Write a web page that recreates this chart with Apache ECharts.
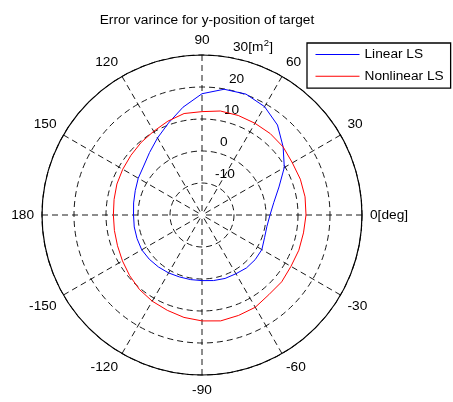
<!DOCTYPE html>
<html><head><meta charset="utf-8">
<script src="https://cdn.jsdelivr.net/npm/echarts@6/dist/echarts.min.js"></script>
<style>html,body{margin:0;padding:0;background:#fff}#c{width:453px;height:402px}</style>
</head><body><div id="c"></div>
<script>
const titleText = 'Error varince for y-position of target';
const seriesNames = ['Linear LS', 'Nonlinear LS'];
const angles = [0,10,20,30,40,50,60,70,80,90,100,110,120,130,140,150,160,170,180,190,200,210,220,230,240,250,260,270,280,290,300,310,320,330,340,350,360];
const linearLS = [1.25,2.8,5.6,9.7,13.1,16.7,19.1,20.2,19.9,17.9,14.2,10.6,7.8,5.5,3.8,3.0,2.2,1.7,1.4,1.5,1.6,1.75,1.5,1.2,0.9,0.6,0.5,0.5,0.8,1.1,1.2,1.6,1.7,1.6,0.8,0.6,1.25];
const nonlinearLS = [12.5,12.7,12.7,12.6,13.1,13.2,13.1,13.1,13.0,12.3,12.2,11.2,10.2,9.6,9.0,8.6,8.3,7.9,7.7,7.8,8.1,8.7,9.5,10.4,11.1,11.7,12.5,13.1,13.6,13.4,13.3,12.5,12.5,12.1,12.2,12.2,12.5];
const radialTicks = [-10,0,10,20,30];
const radialUnit = ['[m', '2', ']'];
const angleUnit = '[deg]';
const radialLabelAngle = 82;

const FONT = 'Liberation Sans, Arial, Helvetica, sans-serif';
const FS = 13.7;
const SUPFS = 9.5;
const chart = echarts.init(document.getElementById('c'), null, {renderer: 'canvas'});
const dash = {color: '#000', width: 0.9, type: [6, 4]};
chart.setOption({
  animation: false,
  backgroundColor: '#fff',
  textStyle: {fontFamily: FONT},
  title: {
    text: titleText, left: 202, top: 8, textAlign: 'center',
    textStyle: {fontSize: FS, fontWeight: 'normal', color: '#000', fontFamily: FONT}
  },
  legend: {
    data: seriesNames, orient: 'vertical', left: 307, top: 43,
    padding: [4.5, 7, 5, 8.5], borderColor: '#000', borderWidth: 1.3,
    backgroundColor: '#fff', itemWidth: 44, itemHeight: 14, itemGap: 7.7,
    icon: 'path://M0,0 L44,0 L44,1 L0,1 Z',
    textStyle: {fontSize: FS, color: '#000', fontFamily: FONT}
  },
  polar: {center: [202, 215], radius: 160},
  angleAxis: {
    type: 'value', min: 0, max: 360, interval: 30, startAngle: 0, clockwise: false,
    axisLine: {show: true, lineStyle: {color: '#000', width: 1.2}},
    axisTick: {show: false},
    splitLine: {show: true, lineStyle: dash},
    axisLabel: {
      show: true, margin: 8, color: '#000', fontSize: FS, fontFamily: FONT,
      formatter: v => v === 0 ? '0' + angleUnit : String(v > 180 ? v - 360 : v)
    }
  },
  radiusAxis: {
    type: 'value', min: -20, max: 30, interval: 10,
    axisLine: {show: false}, axisTick: {show: false}, axisLabel: {show: false},
    splitLine: {show: true, lineStyle: dash}
  },
  series: [
    {
      name: seriesNames[0], type: 'line', coordinateSystem: 'polar', symbol: 'none',
      lineStyle: {color: '#0000ff', width: 1}, itemStyle: {color: '#0000ff'},
      data: angles.map((a, i) => [linearLS[i], a])
    },
    {
      name: seriesNames[1], type: 'line', coordinateSystem: 'polar', symbol: 'none',
      lineStyle: {color: '#ff0000', width: 1}, itemStyle: {color: '#ff0000'},
      data: angles.map((a, i) => [nonlinearLS[i], a])
    }
  ]
});

// radial tick labels placed through the polar scale
const ctx = document.createElement('canvas').getContext('2d');
function textW(t, fs) { ctx.font = fs + 'px ' + FONT; return ctx.measureText(t).width; }
const els = [];
radialTicks.forEach((v, i) => {
  const p = chart.convertToPixel({seriesIndex: 0}, [v, radialLabelAngle]);
  const x = Math.round(p[0] + 8.7);
  const y = Math.round(p[1] - 2.6);
  const base = {fill: '#000', fontFamily: FONT, align: 'left', verticalAlign: 'bottom'};
  if (i === radialTicks.length - 1) {
    const t1 = v + radialUnit[0];
    const w1 = textW(t1, FS);
    const w2 = textW(radialUnit[1], SUPFS);
    els.push({type: 'text', x: x, y: y, silent: true, style: Object.assign({text: t1, fontSize: FS}, base)});
    els.push({type: 'text', x: x + w1 + 0.3, y: y - 5.5, silent: true, style: Object.assign({text: radialUnit[1], fontSize: SUPFS}, base)});
    els.push({type: 'text', x: x + w1 + w2 + 0.6, y: y, silent: true, style: Object.assign({text: radialUnit[2], fontSize: FS}, base)});
  } else {
    els.push({type: 'text', x: x, y: y, silent: true, style: Object.assign({text: String(v), fontSize: FS}, base)});
  }
});
chart.setOption({graphic: els});
</script>
</body></html>
